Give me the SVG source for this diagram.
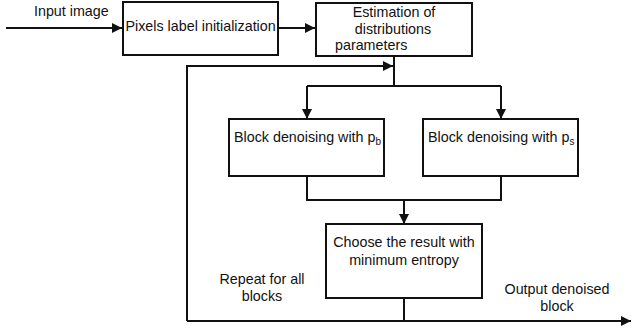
<svg xmlns="http://www.w3.org/2000/svg" width="632" height="332" viewBox="0 0 632 332">
<style>
.box{fill:#fff;stroke:#111;stroke-width:2}
.ln{fill:none;stroke:#111;stroke-width:2}
text{font-family:"Liberation Sans",Arial,sans-serif;font-size:14.3px;fill:#111}
.c{text-anchor:middle}
</style>
<defs>
<marker id="ah" viewBox="0 0 10 10" refX="10" refY="5" markerWidth="5" markerHeight="5" orient="auto" markerUnits="strokeWidth">
<path d="M0,0 L10,5 L0,10 z" fill="#111"/>
</marker>
</defs>
<rect width="632" height="332" fill="#fff"/>
<g id="connectors">
<path class="ln" d="M6,28 H122" marker-end="url(#ah)"/>
<path class="ln" d="M278,28 H315" marker-end="url(#ah)"/>
<path class="ln" d="M394,56 V86"/>
<path class="ln" d="M307,86 H501"/>
<path class="ln" d="M307,86 V119" marker-end="url(#ah)"/>
<path class="ln" d="M501,86 V119" marker-end="url(#ah)"/>
<path class="ln" d="M307,176 V200 H501 V176"/>
<path class="ln" d="M404,200 V224" marker-end="url(#ah)"/>
<path class="ln" d="M404,298 V321"/>
<path class="ln" d="M187,321 V66 H393" marker-end="url(#ah)"/>
<path class="ln" d="M187,321 H631" marker-end="url(#ah)"/>
</g>
<g id="input-label"><text x="34" y="16">Input image</text></g>
<g id="pixels">
<rect class="box" x="123" y="2" width="155" height="53"/>
<text x="125.5" y="31">Pixels label initialization</text>
</g>
<g id="estimation">
<rect class="box" x="316" y="3" width="156" height="53"/>
<text class="c" x="394" y="17">Estimation of</text>
<text class="c" x="393" y="34">distributions</text>
<text x="335" y="50">parameters</text>
</g>
<g id="block-pb">
<rect class="box" x="229" y="119" width="155" height="57"/>
<text x="234" y="142">Block denoising with p<tspan font-size="10" dy="3">b</tspan></text>
</g>
<g id="block-ps">
<rect class="box" x="423" y="119" width="155" height="57"/>
<text x="428" y="142">Block denoising with p<tspan font-size="10" dy="3">s</tspan></text>
</g>
<g id="choose">
<rect class="box" x="326" y="224" width="156" height="74"/>
<text class="c" x="404" y="247">Choose the result with</text>
<text class="c" x="404" y="265">minimum entropy</text>
</g>
<g id="repeat-label">
<text class="c" x="262" y="284">Repeat for all</text>
<text class="c" x="262" y="301">blocks</text>
</g>
<g id="output-label">
<text class="c" x="557" y="294">Output denoised</text>
<text class="c" x="557" y="311">block</text>
</g>
</svg>
